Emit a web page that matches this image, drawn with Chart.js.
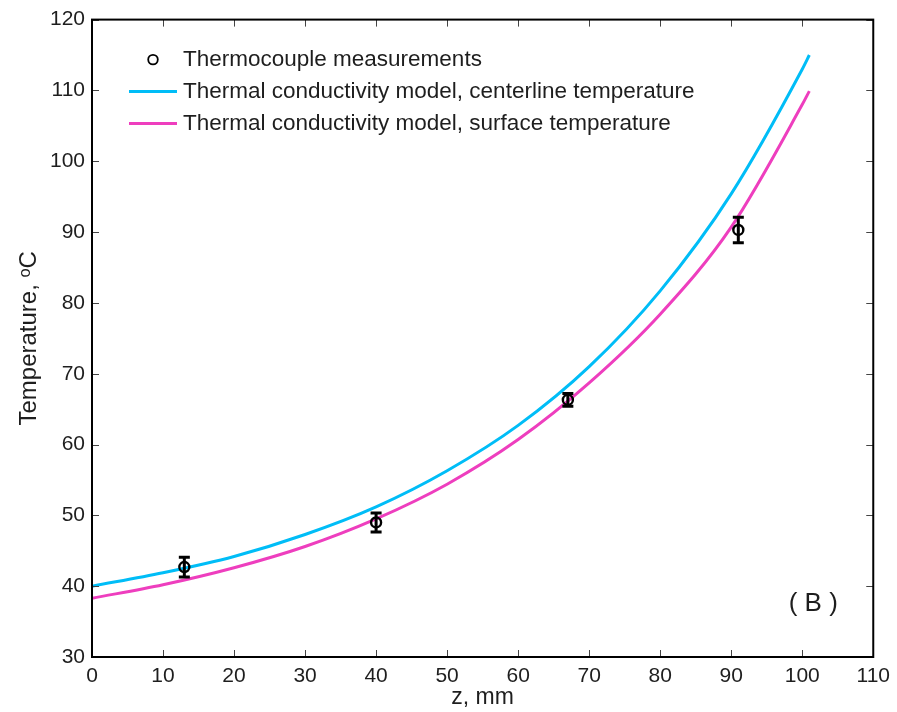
<!DOCTYPE html>
<html>
<head>
<meta charset="utf-8">
<script src="https://cdn.jsdelivr.net/npm/chart.js@4.4.1/dist/chart.umd.min.js"></script>
<style>
  html, body { margin: 0; padding: 0; background: #fff; }
  #wrap { width: 897px; height: 712px; }
</style>
</head>
<body>
<div id="wrap"><canvas id="c" width="897" height="712"></canvas></div>
<script>
// ---- data ----
const zModel = [0, 10, 20, 30, 40, 50, 60, 70, 80, 90, 100, 101];
const centerline = [40.0, 41.9, 44.2, 47.3, 51.2, 56.3, 62.7, 71.0, 81.7, 95.4, 113.0, 115.0];
const surface = [38.3, 40.2, 42.6, 45.6, 49.5, 54.4, 60.7, 68.7, 78.4, 90.7, 108.0, 109.9];
const zMeas = [13, 40, 67, 91];
const tMeas = [42.7, 49.0, 66.3, 90.3];
const tErr = [1.4, 1.35, 0.9, 1.8];
const xTicks = [0, 10, 20, 30, 40, 50, 60, 70, 80, 90, 100, 110];
const yTicks = [30, 40, 50, 60, 70, 80, 90, 100, 110, 120];
const labels = ['Thermocouple measurements',
                'Thermal conductivity model, centerline temperature',
                'Thermal conductivity model, surface temperature'];
const panelLabel = '( B )';

const FONT = "'Liberation Sans', Arial, Helvetica, sans-serif";
const BLUE = '#00BDF7';
const MAGENTA = '#EE3EBE';
const TXT = '#1e1e1e';

const toXY = (xs, ys) => xs.map((x, i) => ({ x: x, y: ys[i] }));

const boxPlugin = {
  id: 'boxPlugin',
  afterDatasetsDraw(chart) {
    const ctx = chart.ctx;
    const xs = chart.scales.x, ys = chart.scales.y;
    ctx.save();
    ctx.strokeStyle = '#000';
    ctx.lineWidth = 3;
    zMeas.forEach((z, i) => {
      const px = xs.getPixelForValue(z);
      const pTop = ys.getPixelForValue(tMeas[i] + tErr[i]);
      const pBot = ys.getPixelForValue(tMeas[i] - tErr[i]);
      ctx.beginPath();
      ctx.moveTo(px, pTop); ctx.lineTo(px, pBot);
      ctx.moveTo(px - 5.5, pTop); ctx.lineTo(px + 5.5, pTop);
      ctx.moveTo(px - 5.5, pBot); ctx.lineTo(px + 5.5, pBot);
      ctx.stroke();
    });
    ctx.restore();
  },
  afterDraw(chart) {
    const ctx = chart.ctx;
    const a = chart.chartArea;
    const xs = chart.scales.x, ys = chart.scales.y;
    ctx.save();
    ctx.strokeStyle = '#444';
    ctx.lineWidth = 1;
    const tl = 7;
    ctx.beginPath();
    xTicks.forEach(v => {
      const p = Math.round(xs.getPixelForValue(v)) + 0.5;
      ctx.moveTo(p, a.bottom); ctx.lineTo(p, a.bottom - tl);
      ctx.moveTo(p, a.top); ctx.lineTo(p, a.top + tl);
    });
    yTicks.forEach(v => {
      const p = Math.round(ys.getPixelForValue(v)) + 0.5;
      ctx.moveTo(a.left, p); ctx.lineTo(a.left + tl, p);
      ctx.moveTo(a.right, p); ctx.lineTo(a.right - tl, p);
    });
    ctx.stroke();
    ctx.strokeStyle = '#000';
    ctx.lineWidth = 2;
    ctx.strokeRect(a.left, a.top, a.right - a.left, a.bottom - a.top);

    // legend (inside, top-left)
    ctx.font = '22.5px ' + FONT;
    ctx.fillStyle = TXT;
    ctx.textBaseline = 'middle';
    ctx.textAlign = 'left';
    const ds = chart.data.datasets;
    const rows = [a.top + 40, a.top + 72, a.top + 104];
    const tx = a.left + 91;
    ctx.strokeStyle = '#000';
    ctx.lineWidth = 1.8;
    ctx.beginPath();
    ctx.arc(a.left + 61, rows[0], 4.8, 0, Math.PI * 2);
    ctx.stroke();
    ctx.fillText(ds[0].label, tx, rows[0]);
    [1, 2].forEach(k => {
      ctx.strokeStyle = ds[k].borderColor;
      ctx.lineWidth = 3;
      ctx.beginPath();
      ctx.moveTo(a.left + 37, rows[k]);
      ctx.lineTo(a.left + 85, rows[k]);
      ctx.stroke();
      ctx.fillText(ds[k].label, tx, rows[k]);
    });

    ctx.font = '26px ' + FONT;
    ctx.textAlign = 'center';
    ctx.fillText(panelLabel, a.right - 60, a.bottom - 53);
    ctx.restore();
  }
};

new Chart(document.getElementById('c'), {
  type: 'line',
  data: {
    datasets: [
      {
        label: labels[0],
        data: toXY(zMeas, tMeas),
        showLine: false,
        pointStyle: 'circle',
        pointRadius: 5,
        pointBorderWidth: 2.4,
        pointBorderColor: '#000',
        pointBackgroundColor: 'rgba(0,0,0,0)',
        order: 0
      },
      {
        label: labels[1],
        data: toXY(zModel, centerline),
        borderColor: BLUE,
        borderWidth: 3,
        pointRadius: 0,
        fill: false,
        cubicInterpolationMode: 'monotone',
        order: 2
      },
      {
        label: labels[2],
        data: toXY(zModel, surface),
        borderColor: MAGENTA,
        borderWidth: 3,
        pointRadius: 0,
        fill: false,
        cubicInterpolationMode: 'monotone',
        order: 1
      }
    ]
  },
  options: {
    responsive: false,
    animation: false,
    events: [],
    layout: { padding: { top: 18, right: 22, left: 0, bottom: 0 } },
    plugins: {
      legend: { display: false },
      tooltip: { enabled: false }
    },
    scales: {
      x: {
        type: 'linear',
        min: 0, max: 110,
        afterBuildTicks: s => { s.ticks = xTicks.map(v => ({ value: v })); },
        afterFit: s => { s.height = 55; },
        grid: { display: false, drawTicks: false },
        border: { display: false },
        ticks: { color: TXT, font: { family: FONT, size: 21 }, padding: 7, maxRotation: 0 },
        title: { display: true, text: 'z, mm', color: TXT, font: { family: FONT, size: 23 }, padding: { top: 0, bottom: 1 } }
      },
      y: {
        type: 'linear',
        min: 30, max: 120,
        afterBuildTicks: s => { s.ticks = yTicks.map(v => ({ value: v })); },
        afterFit: s => { s.width = 92; },
        grid: { display: false, drawTicks: false },
        border: { display: false },
        ticks: { color: TXT, font: { family: FONT, size: 21 }, padding: 7 },
        title: { display: true, text: 'Temperature, ᵒC', color: TXT, font: { family: FONT, size: 24 }, padding: { top: 15, bottom: 0 } }
      }
    }
  },
  plugins: [boxPlugin]
});
</script>
</body>
</html>
